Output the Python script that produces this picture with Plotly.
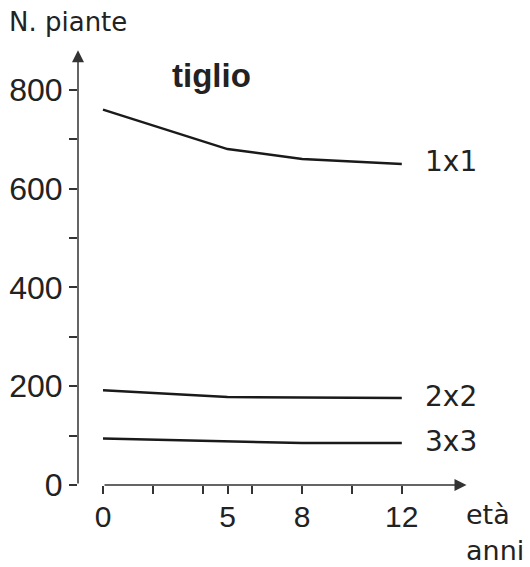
import plotly.graph_objects as go

# dati (numero di piante per età, tiglio)
anni = [0, 5, 8, 12]
sesto_1x1 = [760, 680, 660, 650]
sesto_2x2 = [192, 178, 177, 176]
sesto_3x3 = [94, 89, 85, 85]
etichette_serie = ['1x1', '2x2', '3x3']

x_ticks = [0, 2, 4, 5, 6, 8, 10, 12]
x_ticktext = ['0', '', '', '5', '', '8', '', '12']
y_ticks = list(range(0, 900, 100))
y_ticktext = ['0', '', '200', '', '400', '', '600', '', '800']

W, H = 530, 567
ML, MB = 78, 82
X_RANGE = [-1.004, 17.149]
Y_RANGE = [0, 981.8]

FONT = 'Liberation Sans'
FONT_W = 'DejaVu Sans'
TXT = '#222222'
AXC = '#333333'

fig = go.Figure()

for serie, nome in zip([sesto_1x1, sesto_2x2, sesto_3x3], etichette_serie):
    fig.add_trace(go.Scatter(
        x=anni, y=serie, mode='lines', name=nome,
        line=dict(color='#1a1a1a', width=2.5),
        showlegend=False, hoverinfo='skip'
    ))
    # etichetta a destra della linea
    fig.add_annotation(x=anni[-1] + 0.85, y=serie[-1], text=nome,
                       xanchor='left', yanchor='middle', showarrow=False, yshift=2,
                       font=dict(family=FONT_W, size=28, color=TXT))

# assi con freccia
fig.add_annotation(x=14.6, y=0, ax=0, ay=0, xref='x', yref='y', axref='x', ayref='y',
                   text='', showarrow=True, arrowhead=2, arrowsize=1.6,
                   arrowwidth=1.5, arrowcolor=AXC)
fig.add_annotation(x=X_RANGE[0], y=880, ax=X_RANGE[0], ay=0, xref='x', yref='y',
                   axref='x', ayref='y', text='', showarrow=True, arrowhead=2,
                   arrowsize=1.6, arrowwidth=1.5, arrowcolor=AXC)

fig.add_annotation(x=2.69, y=828, text='<b>tiglio</b>', xanchor='left', yanchor='middle',
                   showarrow=False, font=dict(family=FONT, size=33, color=TXT))
fig.add_annotation(x=-0.156, xref='paper', y=937, text='N. piante', xanchor='left',
                   yanchor='middle', showarrow=False,
                   font=dict(family=FONT_W, size=26, color=TXT))
fig.add_annotation(x=14.5, y=-0.06, yref='paper', text='età', xanchor='left',
                   yanchor='middle', showarrow=False,
                   font=dict(family=FONT_W, size=27, color=TXT))
fig.add_annotation(x=14.5, y=-0.135, yref='paper', text='anni', xanchor='left',
                   yanchor='middle', showarrow=False,
                   font=dict(family=FONT_W, size=27, color=TXT))

fig.update_xaxes(range=X_RANGE, showgrid=False, zeroline=False, showline=False,
                 tickmode='array', tickvals=x_ticks, ticktext=x_ticktext,
                 ticks='outside', ticklen=8, tickwidth=1.5, tickcolor=AXC,
                 ticklabelstandoff=-3,
                 tickfont=dict(family=FONT, size=30, color=TXT))
fig.update_yaxes(range=Y_RANGE, showgrid=False, zeroline=False, showline=False,
                 tickmode='array', tickvals=y_ticks, ticktext=y_ticktext,
                 ticks='outside', ticklen=8, tickwidth=1.5, tickcolor=AXC,
                 tickfont=dict(family=FONT, size=32, color=TXT))

fig.update_layout(width=W, height=H, margin=dict(l=ML, r=0, t=0, b=MB),
                  plot_bgcolor='white', paper_bgcolor='white')

fig.write_html("out.html", config={'displayModeBar': False},
               post_script="document.body.style.margin='0';")
